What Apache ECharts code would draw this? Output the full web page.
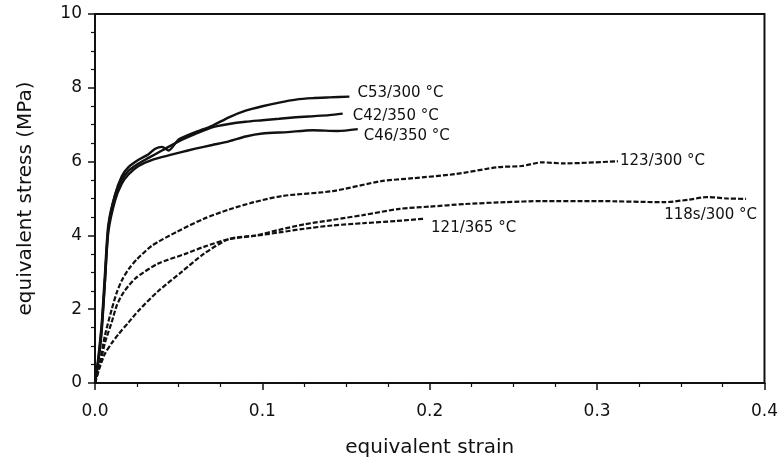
<!DOCTYPE html>
<html>
<head>
<meta charset="utf-8">
<script src="https://cdn.jsdelivr.net/npm/echarts@6/dist/echarts.min.js"></script>
<style>
  html, body { margin: 0; padding: 0; background: #fff; }
  #chart { width: 781px; height: 463px; }
</style>
</head>
<body>
<div id="chart"></div>
<script>
// strain / stress pairs
const c53Strain = [0, 0.002, 0.004, 0.006, 0.008, 0.012, 0.016, 0.020, 0.026, 0.032, 0.036, 0.040, 0.044, 0.050, 0.060, 0.070, 0.080, 0.090, 0.100, 0.110, 0.120, 0.130, 0.140, 0.152]
const c53Stress = [0, 0.6, 1.4, 2.8, 4.2, 5.1, 5.6, 5.85, 6.05, 6.2, 6.35, 6.4, 6.3, 6.6, 6.8, 6.97, 7.2, 7.38, 7.5, 7.6, 7.68, 7.72, 7.74, 7.76]

const c42Strain = [0, 0.002, 0.004, 0.006, 0.008, 0.012, 0.016, 0.020, 0.026, 0.032, 0.040, 0.050, 0.060, 0.070, 0.080, 0.090, 0.100, 0.110, 0.120, 0.130, 0.140, 0.148]
const c42Stress = [0, 0.7, 1.6, 3.0, 4.3, 5.1, 5.5, 5.75, 5.95, 6.1, 6.3, 6.55, 6.75, 6.93, 7.02, 7.08, 7.12, 7.16, 7.2, 7.23, 7.26, 7.3]

const c46Strain = [0, 0.002, 0.004, 0.006, 0.008, 0.012, 0.016, 0.020, 0.026, 0.035, 0.045, 0.051, 0.060, 0.070, 0.080, 0.090, 0.100, 0.115, 0.130, 0.145, 0.157]
const c46Stress = [0, 0.6, 1.5, 2.8, 4.1, 4.95, 5.4, 5.65, 5.88, 6.06, 6.18, 6.25, 6.35, 6.45, 6.55, 6.68, 6.76, 6.8, 6.85, 6.83, 6.88]

const s123Strain = [0, 0.003, 0.006, 0.010, 0.013, 0.016, 0.020, 0.025, 0.034, 0.049, 0.065, 0.080, 0.095, 0.112, 0.142, 0.171, 0.190, 0.215, 0.241, 0.255, 0.267, 0.280, 0.3125]
const s123Stress = [0, 0.6, 1.3, 2.0, 2.45, 2.78, 3.08, 3.35, 3.72, 4.1, 4.45, 4.7, 4.9, 5.07, 5.2, 5.47, 5.55, 5.66, 5.85, 5.88, 5.98, 5.95, 6.01]

const s121Strain = [0, 0.003, 0.006, 0.010, 0.013, 0.017, 0.024, 0.0375, 0.054, 0.065, 0.080, 0.096, 0.110, 0.125, 0.142, 0.160, 0.180, 0.196]
const s121Stress = [0, 0.5, 1.1, 1.65, 2.1, 2.45, 2.83, 3.23, 3.5, 3.69, 3.9, 3.99, 4.08, 4.18, 4.27, 4.33, 4.39, 4.45]

const s118Strain = [0, 0.003, 0.006, 0.010, 0.014, 0.020, 0.026, 0.0375, 0.052, 0.065, 0.080, 0.096, 0.110, 0.125, 0.142, 0.160, 0.182, 0.200, 0.221, 0.245, 0.267, 0.300, 0.340, 0.355, 0.366, 0.378, 0.389]
const s118Stress = [0, 0.45, 0.8, 1.08, 1.32, 1.64, 1.96, 2.48, 3.02, 3.5, 3.9, 4.0, 4.15, 4.3, 4.42, 4.55, 4.72, 4.78, 4.85, 4.9, 4.93, 4.93, 4.9, 4.97, 5.04, 5.0, 4.99]

const font = 'DejaVu Sans'

const pairs = (xs, ys) => xs.map((x, i) => [x, ys[i]])

const makeSeries = (name, xs, ys, dashed, labelOpt) => ({
  name: name,
  type: 'line',
  data: pairs(xs, ys),
  showSymbol: false,
  smooth: 0.25,
  lineStyle: {
    color: '#111',
    width: dashed ? 2.2 : 2.4,
    type: dashed ? [5, 2] : 'solid'
  },
  endLabel: Object.assign({
    show: true,
    formatter: name,
    color: '#111',
    fontFamily: font,
    fontSize: 15
  }, labelOpt)
})

const chart = echarts.init(document.getElementById('chart'))

const option = {
  animation: false,
  backgroundColor: '#fff',
  grid: {
    left: 95,
    right: 14,
    top: 14,
    bottom: 78,
    show: true,
    borderColor: '#111',
    borderWidth: 2,
    backgroundColor: 'transparent'
  },
  xAxis: {
    type: 'value',
    min: 0,
    max: 0.4,
    interval: 0.1,
    name: 'equivalent strain',
    nameLocation: 'middle',
    nameGap: 55,
    nameTextStyle: { fontFamily: font, fontSize: 20, color: '#111' },
    axisLine: { lineStyle: { color: '#111', width: 2 } },
    axisTick: { show: true, length: 7, lineStyle: { color: '#111', width: 1.5 } },
    minorTick: { show: true, splitNumber: 4, length: 4, lineStyle: { color: '#111', width: 1.2 } },
    splitLine: { show: false },
    axisLabel: {
      margin: 20,
      fontFamily: font,
      fontSize: 17,
      color: '#111',
      formatter: v => v.toFixed(1)
    }
  },
  yAxis: {
    type: 'value',
    min: 0,
    max: 10,
    interval: 2,
    name: 'equivalent stress (MPa)',
    nameLocation: 'middle',
    nameGap: 59,
    nameTextStyle: { fontFamily: font, fontSize: 20, color: '#111' },
    axisLine: { lineStyle: { color: '#111', width: 2 } },
    axisTick: { show: true, length: 7, lineStyle: { color: '#111', width: 1.5 } },
    minorTick: { show: true, splitNumber: 4, length: 4, lineStyle: { color: '#111', width: 1.2 } },
    splitLine: { show: false },
    axisLabel: { margin: 13, fontFamily: font, fontSize: 17, color: '#111' }
  },
  series: [
    makeSeries('C53/300 °C', c53Strain, c53Stress, false, { offset: [0, -4] }),
    makeSeries('C42/350 °C', c42Strain, c42Stress, false, { offset: [2, 2] }),
    makeSeries('C46/350 °C', c46Strain, c46Stress, false, { offset: [-2, 7] }),
    makeSeries('123/300 °C', s123Strain, s123Stress, true, { offset: [-6, 0] }),
    makeSeries('118s/300 °C', s118Strain, s118Stress, true, { align: 'right', offset: [3, 16] }),
    makeSeries('121/365 °C', s121Strain, s121Stress, true, { offset: [0, 9] })
  ]
}

chart.setOption(option)
</script>
</body>
</html>
